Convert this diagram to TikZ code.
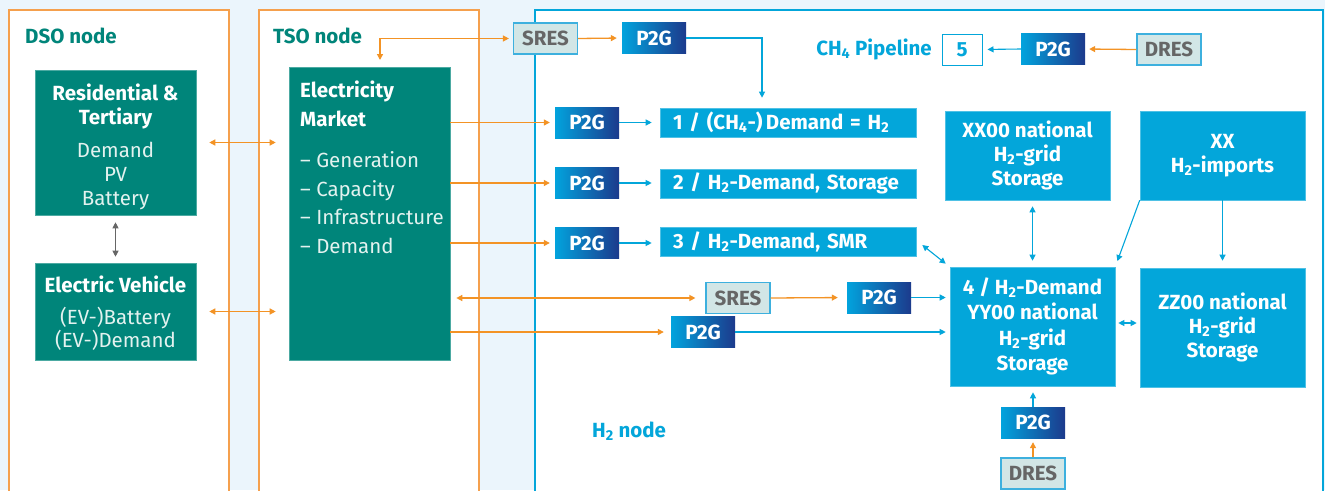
\documentclass[tikz,border=0pt]{standalone}
\usepackage{fontspec}
\setmainfont{Fira Sans}
\usetikzlibrary{arrows.meta,calc}
\definecolor{dteal}{HTML}{00857A}
\definecolor{hblue}{HTML}{03A6DA}
\definecolor{pblueL}{HTML}{02A3DD}
\definecolor{pblueR}{HTML}{1C3A8C}
\definecolor{orng}{HTML}{F39325}
\definecolor{frameor}{HTML}{F5A04D}
\definecolor{bgblue}{HTML}{EBF5FC}
\definecolor{sresfill}{HTML}{D2E6E6}
\definecolor{sresborder}{HTML}{3DB0DE}
\definecolor{sresgray}{HTML}{666666}
\definecolor{softwhite}{HTML}{E3F2EF}
\newcommand{\hsub}[1]{\textsubscript{#1}}
\newcommand{\fsz}[2]{\fontsize{#1}{#2}\selectfont}
\newcommand{\wb}[1]{\textcolor{white}{\bfseries #1}}
\begin{document}
\begin{tikzpicture}[x=1pt,y=-1pt,
  >={Triangle[length=6pt,width=6pt]},
  tbox/.style={fill=dteal, draw=dteal!70!white, line width=0.6pt, text=softwhite, inner sep=0pt, align=center},
  hbox/.style={fill=hblue, draw=hblue!70!white, line width=0.6pt, text=white, inner sep=0pt, align=center, font=\bfseries\fsz{20.5}{24}},
  dbox/.style={fill=hblue, draw=hblue!70!white, line width=0.6pt, text=white, inner ysep=0pt, inner xsep=13pt, text width=230pt, align=left, font=\bfseries\fsz{20.5}{22}, minimum height=29pt},
  p2g/.style={minimum width=64pt, minimum height=31pt, inner sep=0pt, text=white, font=\bfseries\fsz{20.5}{22}, left color=pblueL, right color=pblueR},
  res/.style={minimum width=64pt, minimum height=31pt, inner sep=0pt, fill=sresfill, draw=sresborder, line width=1.2pt, text=sresgray, font=\bfseries\fsz{20.5}{22}},
  oar/.style={draw=orng, line width=1.3pt},
  bar/.style={draw=hblue, line width=1.1pt},
  gar/.style={draw=gray!80!black, line width=1.1pt},
  head/.style={font=\bfseries\fsz{20.5}{22}, inner sep=0pt}
]
\useasboundingbox (0,0) rectangle (1325,490);
\fill[bgblue] (0,0) rectangle (1325,490);
% frames
\filldraw[fill=white, draw=frameor, line width=1.4pt] (9,500) -- (9,10) -- (229,10) -- (229,500);
\filldraw[fill=white, draw=frameor, line width=1.4pt] (259,500) -- (259,10) -- (479,10) -- (479,500);
\filldraw[fill=white, draw=hblue, line width=1.4pt] (535,500) -- (535,10) -- (1323,10) -- (1323,500);

% headings
\node[head, text=dteal, anchor=west] (dsoh) at (25,36) {DSO node};
\node[head, text=dteal, anchor=west] (tsoh) at (273,36) {TSO node};
\node[head, text=hblue, anchor=east] (ch4h) at (932,49) {CH\hsub{4} Pipeline};
\node[head, text=hblue, anchor=west] (h2h) at (592,431) {H\hsub{2} node};

% DSO boxes
\node[tbox, minimum width=161pt, minimum height=145pt] (resid) at (115.5,142.5) {};
\node[align=center, text=softwhite, inner sep=0pt, font=\fsz{20.5}{24}] (residt) at (115.5,146.5)
  {\wb{Residential \&}\\\wb{Tertiary}\\[9pt]Demand\\PV\\Battery};
\node[tbox, minimum width=161pt, minimum height=97pt] (ev) at (115.5,311.5) {};
\node[align=center, text=softwhite, inner sep=0pt, font=\fsz{20.5}{23}] (evt) at (115.5,313.5)
  {\wb{Electric Vehicle}\\[9pt](EV-)Battery\\(EV-)Demand};
% TSO box
\node[tbox, minimum width=161pt, minimum height=293pt] (market) at (369.5,213.5) {};
\node[anchor=north west, align=left, text=softwhite, inner sep=0pt, font=\fsz{20.5}{28.5}] (mtext) at (300,81)
  {\wb{Electricity}\\\wb{Market}\\[13pt]
   – Generation\\– Capacity\\– Infrastructure\\– Demand};

% H2 node
\node[res] (sres1) at (545.5,38.5) {SRES};
\node[p2g] (p2gt) at (654,38) {P2G};
\node[p2g] (p2g1) at (587,122.5) {P2G};
\node[dbox] (dem1) at (788,122.5) {1 / (CH\hsub{4}-)\,Demand = H\hsub{2}};
\node[p2g] (p2g2) at (587,183) {P2G};
\node[dbox] (dem2) at (788,183.5) {2 / H\hsub{2}-Demand, Storage};
\node[p2g] (p2g3) at (587,243) {P2G};
\node[dbox] (dem3) at (788,242) {3 / H\hsub{2}-Demand, SMR};

\node[fill=white, draw=hblue, line width=1pt, text=hblue, font=\bfseries\fsz{20.5}{22}, minimum width=40pt, minimum height=31pt, inner sep=0pt] (box5) at (962,49.5) {5};
\node[p2g] (p2g5) at (1053,49) {P2G};
\node[res] (dres1) at (1169,49.5) {DRES};

\node[hbox, minimum width=165pt, minimum height=89pt] (xx00) at (1027.5,155.5) {XX00 national\\H\hsub{2}-grid\\Storage};
\node[hbox, minimum width=165pt, minimum height=89pt] (xximp) at (1222.5,155.5) {XX\\H\hsub{2}-imports};
\node[hbox, minimum width=165pt, minimum height=119pt, font=\bfseries\fsz{20.5}{25.5}] (box4) at (1032.5,326.5) {4 / H\hsub{2}-Demand\\YY00 national\\H\hsub{2}-grid\\Storage};
\node[hbox, minimum width=165pt, minimum height=119pt] (zz) at (1222.5,327.5) {ZZ00 national\\H\hsub{2}-grid\\Storage};

\node[res] (sres2) at (738,298) {SRES};
\node[p2g] (p2gm) at (879,297.5) {P2G};
\node[p2g] (p2gl) at (703,332) {P2G};
\node[p2g] (p2gb) at (1033,422.5) {P2G};
\node[res] (dresb) at (1033,473.5) {DRES};

% connectors DSO/TSO
\draw[gar, <->, shorten <=7pt, shorten >=6pt] (resid.south) -- (ev.north);
\draw[oar, <->, shorten <=13pt, shorten >=13pt] (resid.east) -- (resid.east -| market.west);
\draw[oar, <->, shorten <=13pt, shorten >=13pt] (ev.east) -- (ev.east -| market.west);
\coordinate (mtop) at (380,60);
\draw[oar, <->, shorten >=4pt] (mtop) |- (sres1.west);

% top row
\draw[oar, ->, shorten >=5pt] (sres1.east) -- (p2gt.west);
\draw[bar, ->, shorten >=10pt] (p2gt.east) -| (dem1.north -| 762,0);

% rows 1-3
\foreach \p/\d in {p2g1/dem1, p2g2/dem2, p2g3/dem3}{
  \draw[oar, ->, shorten >=5pt] (market.east |- \p.west) -- (\p.west);
  \draw[bar, ->, shorten >=8pt] (\p.east) -- (\p.east -| \d.west);
}

% CH4 row
\draw[oar, ->, shorten >=4pt] (dres1.west) -- (p2g5.east);
\draw[bar, ->, shorten >=5pt] (p2g5.west) -- (box5.east);

% grid connections
\draw[bar, <->, shorten <=6pt, shorten >=6pt] (xx00.south -| box4.north) -- (box4.north);
\draw[bar, ->, shorten >=6pt] (xximp.south west) -- (box4.north east);
\draw[bar, ->, shorten >=7pt] (xximp.south) -- (zz.north);
\draw[bar, <->, shorten <=3pt, shorten >=3pt] (box4.east |- 0,323) -- (zz.west |- 0,323);
\draw[bar, <->] ([xshift=6pt,yshift=-3pt]dem3.east) -- ([xshift=-4pt,yshift=3pt]box4.north west);

% middle rows
\draw[oar, <->, shorten <=6pt, shorten >=10pt] (market.east |- sres2.west) -- (sres2.west);
\draw[oar, ->, shorten >=9pt] (sres2.east) -- (p2gm.west);
\draw[bar, ->, shorten >=4pt] (p2gm.east) -- (p2gm.east -| box4.west);
\draw[oar, ->, shorten >=7pt] (market.east |- p2gl.west) -- (p2gl.west);
\draw[bar, ->, shorten >=4pt] (p2gl.east) -- (p2gl.east -| box4.west);

% bottom
\draw[bar, ->, shorten >=6pt] (p2gb.north) -- (p2gb.north |- box4.south);
\draw[oar, ->, shorten >=4pt] (dresb.north) -- (p2gb.south);
\end{tikzpicture}
\end{document}
